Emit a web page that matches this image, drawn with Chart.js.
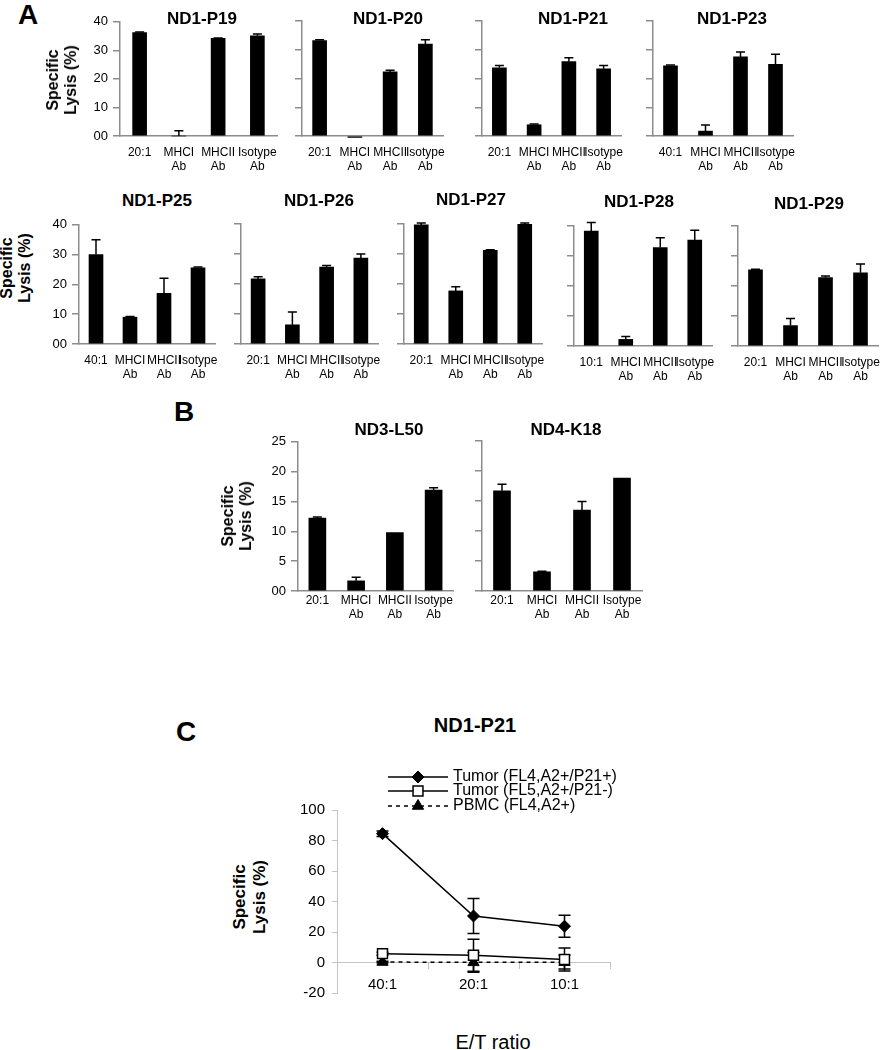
<!DOCTYPE html>
<html>
<head>
<meta charset="utf-8">
<script src="https://cdn.jsdelivr.net/npm/chart.js@4.4.1/dist/chart.umd.min.js"></script>
<style>
  html, body { margin: 0; padding: 0; background: #fff; overflow: hidden; }
  #page { position: relative; width: 882px; height: 1050px; overflow: hidden;
          font-family: "Liberation Sans", Arial, sans-serif; color: #000; }
  #page canvas { position: absolute; }
  .txt { position: absolute; white-space: nowrap; line-height: 1; transform: translate(-50%, -50%); z-index: 2; }
  .letter { font-weight: bold; font-size: 28px; }
  .title { font-weight: bold; font-size: 17px; }
  .ytitle { font-weight: bold; font-size: 16px; line-height: 18px; text-align: center;
            transform: translate(-50%, -50%) rotate(-90deg); }
</style>
</head>
<body>
<div id="page">
  <!-- panel letters -->
  <div class="txt letter" style="left:28px;top:15px;">A</div>
  <div class="txt letter" style="left:184px;top:412px;">B</div>
  <div class="txt letter" style="left:186px;top:732px;">C</div>

  <!-- chart titles -->
  <div class="txt title" style="left:202px;top:18px;">ND1-P19</div>
  <div class="txt title" style="left:388px;top:18px;">ND1-P20</div>
  <div class="txt title" style="left:573px;top:18px;">ND1-P21</div>
  <div class="txt title" style="left:732px;top:18px;">ND1-P23</div>
  <div class="txt title" style="left:157px;top:200px;">ND1-P25</div>
  <div class="txt title" style="left:319px;top:200px;">ND1-P26</div>
  <div class="txt title" style="left:471px;top:199px;">ND1-P27</div>
  <div class="txt title" style="left:639px;top:201px;">ND1-P28</div>
  <div class="txt title" style="left:809px;top:203px;">ND1-P29</div>
  <div class="txt title" style="left:389px;top:429px;">ND3-L50</div>
  <div class="txt title" style="left:566px;top:429px;">ND4-K18</div>
  <div class="txt title" style="left:475px;top:725px;font-size:20px;">ND1-P21</div>

  <!-- axis titles -->
  <div class="txt ytitle" style="left:62px;top:80px;">Specific<br>Lysis (%)</div>
  <div class="txt ytitle" style="left:16px;top:268px;">Specific<br>Lysis (%)</div>
  <div class="txt ytitle" style="left:237px;top:516px;">Specific<br>Lysis (%)</div>
  <div class="txt ytitle" style="left:250px;top:897px;font-size:17px;line-height:20px;">Specific<br>Lysis (%)</div>
  <div class="txt" style="left:493px;top:1042px;font-size:20px;">E/T ratio</div>
</div>

<script>
// ---- data ---------------------------------------------------------------
const antibodyLabels = [['MHCI', 'Ab'], ['MHCII', 'Ab'], ['Isotype', 'Ab']];

// panel A, top row
const p19Lysis = [36.2, 0, 34.2, 35.1];
const p19Err   = [0.2, 1.8, 0.1, 0.6];
const p20Lysis = [33.2, -0.5, 22.3, 32.0];
const p20Err   = [0.3, 0, 0.6, 1.5];
const p21Lysis = [23.7, 3.9, 25.9, 23.4];
const p21Err   = [0.8, 0.3, 1.3, 1.1];
const p23Lysis = [24.4, 1.7, 27.5, 24.9];
const p23Err   = [0.3, 2.1, 1.7, 3.5];

// panel A, bottom row
const p25Lysis = [30.0, 9.0, 17.0, 25.6];
const p25Err   = [5.0, 0.2, 5.1, 0.2];
const p26Lysis = [21.7, 6.4, 25.6, 28.6];
const p26Err   = [0.7, 4.3, 0.6, 1.4];
const p27Lysis = [39.7, 17.7, 31.2, 39.9];
const p27Err   = [0.6, 1.4, 0.2, 0.4];
const p28Lysis = [38.3, 2.2, 32.8, 35.3];
const p28Err   = [2.9, 1.0, 3.3, 3.3];
const p29Lysis = [25.4, 6.8, 22.8, 24.4];
const p29Err   = [0.2, 2.4, 0.5, 2.9];

// panel B
const l50Lysis = [12.2, 1.7, 9.8, 16.9];
const l50Err   = [0.2, 0.6, 0, 0.4];
const k18Lysis = [16.7, 3.2, 13.5, 18.8];
const k18Err   = [1.1, 0.1, 1.4, 0];

// panel C
const etRatios      = ['40:1', '20:1', '10:1'];
const tumorPosLysis = [84.5, 30.5, 23.8];
const tumorPosErr   = [1.8, 11.5, 7.2];
const tumorNegLysis = [5.8, 4.8, 2.0];
const tumorNegErr   = [1.0, 10.5, 7.5];
const pbmcLysis     = [0.3, 0.1, 0.2];
const pbmcErr       = [0.5, 6.5, 4.5];

// ---- setup --------------------------------------------------------------
Chart.defaults.font.family = '"Liberation Sans", Arial, sans-serif';
Chart.defaults.color = '#000';
const AXIS_GREY = '#8c8c8c';
const LIGHT_GREY = '#c4c4c4';

// error bars drawn from the dataset's `errors` array through the y scale
const errorBarPlugin = {
  id: 'errorBars',
  draw(chart, opts) {
    const { ctx } = chart;
    const y = chart.scales.y;
    chart.data.datasets.forEach((ds, di) => {
      if (!ds.errors) return;
      const meta = chart.getDatasetMeta(di);
      ctx.save();
      ctx.strokeStyle = '#000';
      ctx.lineWidth = opts.width || 1.5;
      meta.data.forEach((el, i) => {
        const v = ds.data[i], e = ds.errors[i];
        if (!e) return;
        const yv = y.getPixelForValue(v);
        const ends = [];
        if (opts.up) ends.push(y.getPixelForValue(v + e));
        if (opts.down) ends.push(y.getPixelForValue(v - e));
        ends.forEach(ye => {
          ctx.beginPath();
          ctx.moveTo(el.x, yv); ctx.lineTo(el.x, ye);
          ctx.moveTo(el.x - opts.cap, ye); ctx.lineTo(el.x + opts.cap, ye);
          ctx.stroke();
        });
      });
      ctx.restore();
    });
  },
  beforeDatasetsDraw(chart, args, opts) { if (opts.under) this.draw(chart, opts); },
  afterDatasetsDraw(chart, args, opts) { if (!opts.under) this.draw(chart, opts); },
};

// legend with a line sample and the marker in its middle
const lineLegendPlugin = {
  id: 'lineLegend',
  afterDraw(chart, args, opts) {
    const { ctx, chartArea } = chart;
    chart.data.datasets.forEach((ds, i) => {
      const y = chartArea.top + opts.rows[i];
      const x0 = chartArea.left + opts.x0, x1 = x0 + opts.len;
      ctx.save();
      ctx.strokeStyle = ds.borderColor;
      ctx.lineWidth = ds.borderWidth;
      ctx.setLineDash(ds.borderDash || []);
      ctx.beginPath(); ctx.moveTo(x0, y); ctx.lineTo(x1, y); ctx.stroke();
      ctx.setLineDash([]);
      ctx.fillStyle = ds.pointBackgroundColor;
      ctx.strokeStyle = ds.pointBorderColor;
      ctx.lineWidth = ds.pointBorderWidth;
      Chart.helpers.drawPoint(ctx, { pointStyle: ds.pointStyle, radius: ds.pointRadius,
        borderWidth: ds.pointBorderWidth, rotation: 0 }, (x0 + x1) / 2, y);
      ctx.fillStyle = '#000';
      ctx.font = opts.font;
      ctx.textAlign = 'left';
      ctx.textBaseline = 'middle';
      ctx.fillText(ds.label, x1 + 5, y);
      ctx.restore();
    });
  }
};

// area = [left, top, right, bottom] of the plot area on the page
function placeCanvas(area, pad) {
  const c = document.createElement('canvas');
  c.width = area[2] - area[0] + pad.l + pad.r;
  c.height = area[3] - area[1] + pad.t + pad.b;
  c.style.left = (area[0] - pad.l) + 'px';
  c.style.top = (area[1] - pad.t) + 'px';
  document.getElementById('page').appendChild(c);
  return c;
}

function lysisBars(area, ratio, values, errors, o) {
  const pad = { l: 45, r: 14, t: 12, b: o.padB };
  const canvas = placeCanvas(area, pad);
  return new Chart(canvas, {
    type: 'bar',
    data: {
      labels: [ratio, ...antibodyLabels],
      datasets: [{ data: values, errors: errors, backgroundColor: '#000',
                   barThickness: o.barW, clip: false }]
    },
    options: {
      responsive: false,
      animation: false,
      events: [],
      layout: { padding: { top: pad.t, right: pad.r, left: 0, bottom: 0 } },
      plugins: {
        legend: { display: false },
        tooltip: { enabled: false },
        errorBars: { up: true, down: false, cap: 4.5, width: 1.5 }
      },
      scales: {
        x: {
          grid: { display: false, drawTicks: false },
          border: { color: AXIS_GREY, width: 1.5 },
          ticks: { color: '#000', font: { size: 12 }, padding: o.xPad,
                   maxRotation: 0, autoSkip: false },
          afterFit: s => { s.height = pad.b; }
        },
        y: {
          min: 0, max: o.max,
          ticks: { stepSize: o.step, display: !!o.showY, color: '#000',
                   font: { size: 13 }, padding: 5,
                   callback: v => v === 0 ? '00' : v },
          grid: { drawOnChartArea: false, tickLength: 7, color: AXIS_GREY, lineWidth: 1.5 },
          border: { color: AXIS_GREY, width: 1.5 },
          afterFit: s => { s.width = pad.l; }
        }
      }
    },
    plugins: [errorBarPlugin]
  });
}

// ---- panel A ------------------------------------------------------------
const rowA = { max: 40, step: 10, barW: 14, xPad: 9, padB: 42 };
lysisBars([120, 21, 277, 136], '20:1', p19Lysis, p19Err, { ...rowA, showY: true });
lysisBars([302, 21, 443, 136], '20:1', p20Lysis, p20Err, rowA);
lysisBars([482, 21, 621, 136], '20:1', p21Lysis, p21Err, rowA);
lysisBars([653, 21, 793, 136], '40:1', p23Lysis, p23Err, rowA);

lysisBars([79, 224, 215, 344], '40:1', p25Lysis, p25Err, { ...rowA, showY: true });
lysisBars([241, 224, 378, 344], '20:1', p26Lysis, p26Err, rowA);
lysisBars([404, 224, 542, 344], '20:1', p27Lysis, p27Err, rowA);
lysisBars([574, 226, 712, 346], '10:1', p28Lysis, p28Err, rowA);
lysisBars([738, 226, 878, 346], '20:1', p29Lysis, p29Err, rowA);

// ---- panel B ------------------------------------------------------------
const rowB = { max: 25, step: 5, barW: 17, xPad: 2, padB: 36 };
lysisBars([298, 441, 453, 591], '20:1', l50Lysis, l50Err, { ...rowB, showY: true });
lysisBars([482, 441, 642, 591], '20:1', k18Lysis, k18Err, rowB);

// ---- panel C ------------------------------------------------------------
(function () {
  const pad = { l: 60, r: 80, t: 50, b: 12 };
  const canvas = placeCanvas([337, 810, 610, 997], pad);
  new Chart(canvas, {
    type: 'line',
    data: {
      labels: etRatios,
      datasets: [
        { label: 'Tumor (FL4,A2+/P21+)', data: tumorPosLysis, errors: tumorPosErr,
          borderColor: '#000', borderWidth: 1.5, tension: 0, fill: false,
          pointStyle: 'rectRot', pointRadius: 6, pointBackgroundColor: '#000',
          pointBorderColor: '#000', pointBorderWidth: 1 },
        { label: 'Tumor (FL5,A2+/P21-)', data: tumorNegLysis, errors: tumorNegErr,
          borderColor: '#000', borderWidth: 1.5, tension: 0, fill: false,
          pointStyle: 'rect', pointRadius: 7, pointBackgroundColor: '#fff',
          pointBorderColor: '#000', pointBorderWidth: 1.5 },
        { label: 'PBMC (FL4,A2+)', data: pbmcLysis, errors: pbmcErr,
          borderColor: '#000', borderWidth: 1.5, borderDash: [4, 4], tension: 0, fill: false,
          pointStyle: 'triangle', pointRadius: 6.5, pointBackgroundColor: '#000',
          pointBorderColor: '#000', pointBorderWidth: 1 }
      ]
    },
    options: {
      responsive: false,
      animation: false,
      events: [],
      layout: { padding: { top: pad.t, right: pad.r, left: 0, bottom: 0 } },
      plugins: {
        legend: { display: false },
        tooltip: { enabled: false },
        errorBars: { up: true, down: true, cap: 6, width: 1.5, under: true },
        lineLegend: { rows: [-33, -19, -4], x0: 51, len: 60,
                      font: '16px "Liberation Sans", Arial, sans-serif' }
      },
      scales: {
        x: {
          position: { y: 0 },
          offset: true,
          grid: { display: true, drawOnChartArea: false, drawTicks: true, tickLength: 6,
                  offset: true, color: LIGHT_GREY, lineWidth: 1 },
          border: { color: LIGHT_GREY, width: 1 },
          ticks: { color: '#000', font: { size: 15 }, padding: 7, maxRotation: 0 }
        },
        y: {
          min: -20, max: 100,
          ticks: { stepSize: 20, color: '#000', font: { size: 15 }, padding: 7 },
          grid: { drawOnChartArea: false, tickLength: 5, color: LIGHT_GREY, lineWidth: 1 },
          border: { color: LIGHT_GREY, width: 1 },
          afterFit: s => { s.width = pad.l; }
        }
      }
    },
    plugins: [errorBarPlugin, lineLegendPlugin]
  });
})();
</script>
</body>
</html>
